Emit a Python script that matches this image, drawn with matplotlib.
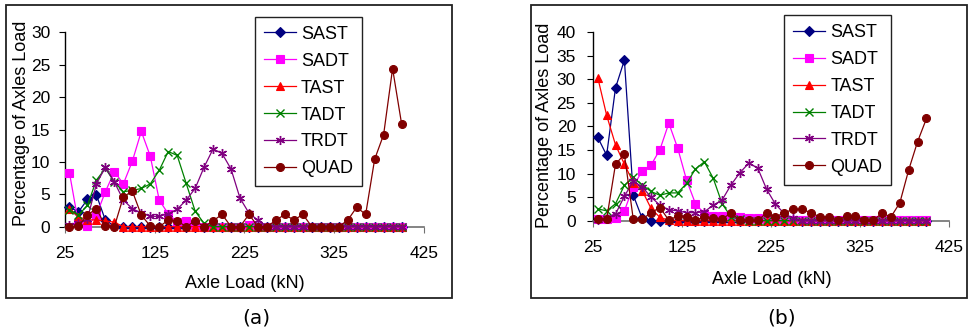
import matplotlib
matplotlib.use("Agg")
import matplotlib.pyplot as plt
from matplotlib.patches import Rectangle

plt.rcParams['font.family'] = ['Liberation Sans', 'DejaVu Sans']

# ---------------- data ----------------
axle_load = [30, 40, 50, 60, 70, 80, 90, 100, 110, 120, 130, 140, 150, 160, 170,
             180, 190, 200, 210, 220, 230, 240, 250, 260, 270, 280, 290, 300, 310,
             320, 330, 340, 350, 360, 370, 380, 390, 400]
series_names = ["SAST", "SADT", "TAST", "TADT", "TRDT", "QUAD"]

sast_a = [3.0, 2.3, 4.2, 4.9, 1.0, 0.1] + [0] * 32
sadt_a = [8.3, 0.5, 0.1, 1.8, 5.4, 8.5, 6.6, 10.1, 14.7, 10.9, 4.1, 2.0, 0.7, 0.9, 0.3,
          0, 0, 0, 0, 0, 0.3] + [0] * 17
tast_a = [2.8, 1.5, 1.1, 1.0, 0.9, 0.7] + [0] * 32
tadt_a = [2.6, 1.8, 3.3, 7.2, 9.0, 6.9, 5.4, 5.6, 5.9, 6.6, 8.7, 11.6, 11.0, 6.7, 2.4,
          0.5] + [0] * 22
trdt_a = [0.2, 0.5, 1.2, 6.6, 9.2, 6.9, 4.1, 2.8, 2.1, 1.6, 1.6, 2.0, 2.7, 4.1, 5.9,
          9.2, 12.0, 11.3, 8.9, 4.4, 2.1, 1.0] + [0] * 16
quad_a = [0, 0.1, 1.8, 2.8, 0.1, 0, 4.6, 5.5, 1.8, 0.1, 0, 1.0, 0.9, 0, 0.9, 0, 0.9,
          1.9, 0, 0, 1.9, 0, 0, 1.0, 1.9, 1.0, 1.9, 0, 0, 0, 0, 1.0, 3.0, 1.9, 10.4,
          14.2, 24.4, 15.9]

sast_b = [17.7, 13.9, 28.2, 34.1, 5.4, 0.5] + [0] * 32
sadt_b = [0.3, 0.3, 0.5, 2.1, 7.2, 10.6, 11.8, 15.1, 20.7, 15.4, 8.6, 3.6, 1.5, 1.1,
          0.9, 0.8, 0.8, 0.6, 0.5, 0.4, 0.3, 0.2, 0.2, 0.2, 0.2, 0.2, 0.2, 0.2, 0.2] + [0.1] * 9
tast_b = [30.4, 22.4, 16.1, 12.0, 8.1, 6.4, 2.6, 0.7, 0.1] + [0] * 29
tadt_b = [2.5, 2.1, 3.6, 7.5, 9.2, 7.6, 6.2, 5.4, 5.9, 5.9, 7.9, 11.0, 12.5, 9.0, 3.6,
          0.8, 0.3] + [0] * 21
trdt_b = [0.1, 0.6, 1.4, 5.2, 8.4, 7.2, 5.0, 3.3, 2.3, 2.1, 1.7, 1.7, 1.9, 3.3, 4.4,
          7.6, 10.2, 12.2, 11.2, 6.7, 3.5, 1.5, 0.5] + [0] * 15
quad_b = [0.3, 0.3, 12.0, 14.1, 0.3, 0.3, 1.7, 2.8, 0.1, 1.0, 0.8, 0.1, 0.8, 0.6, 0.4,
          1.6, 0.1, 0.1, 0.1, 1.6, 0.8, 1.7, 2.4, 2.4, 1.7, 0.8, 0.8, 0.1, 1.0, 1.0,
          0.1, 0.1, 1.6, 0.8, 3.8, 10.8, 16.8, 21.7]

x_ticks = [25, 125, 225, 325, 425]
y_ticks_a = [0, 5, 10, 15, 20, 25, 30]
y_ticks_b = [0, 5, 10, 15, 20, 25, 30, 35, 40]

# ---------------- styles ----------------
styles = {
    "SAST": dict(color="#000080", marker="D", ms=4.8),
    "SADT": dict(color="#FF00FF", marker="s", ms=5.2),
    "TAST": dict(color="#FF0000", marker="^", ms=6.0),
    "TADT": dict(color="#008000", marker="x", ms=5.5, mew=1.0),
    "TRDT": dict(color="#800080", marker=(6, 2, 0), ms=6.5, mew=1.0),
    "QUAD": dict(color="#800000", marker="o", ms=5.7),
}

W, H = 970, 333
fig = plt.figure(figsize=(W / 100, H / 100), dpi=100)


def fx(px):
    return px / W


def fy(py):
    return 1 - py / H


def make_panel(rect_px, axes_px, data, ylim, yticks, ylab_x, ylab_y, xlab_xy,
               leg_xy, tag_xy, tag, ytick_pad):
    # panel frame
    x0, y0, x1, y1 = rect_px
    fig.patches.append(Rectangle((fx(x0), fy(y1)), fx(x1 - x0), (y1 - y0) / H,
                                 transform=fig.transFigure, fill=False,
                                 edgecolor="#222222", linewidth=1.3))
    ax0, ay_top, ax1, ay_bot = axes_px
    ax = fig.add_axes([fx(ax0), fy(ay_bot), fx(ax1 - ax0), (ay_bot - ay_top) / H])
    for name, vals in zip(series_names, data):
        st = styles[name]
        ax.plot(axle_load, vals, color=st["color"], marker=st["marker"],
                ms=st["ms"], mew=st.get("mew", 0.8), lw=0.9, label=name,
                clip_on=False, zorder=3)
    ax.set_xlim(25, 425)
    ax.set_ylim(*ylim)
    ax.set_xticks(x_ticks)
    ax.set_yticks(yticks)
    for s in ("top", "right"):
        ax.spines[s].set_visible(False)
    ax.spines["left"].set_color("#000000")
    ax.spines["bottom"].set_color("#707070")
    ax.spines["left"].set_linewidth(1.0)
    ax.spines["bottom"].set_linewidth(1.2)
    ax.tick_params(axis="x", direction="out", length=4, width=0.8, color="#707070",
                   pad=10, labelsize=12.5)
    ax.tick_params(axis="y", direction="out", length=4, width=0.8, color="#000000",
                   pad=ytick_pad, labelsize=12.5)
    ax.patch.set_alpha(0)
    fig.text(fx(ylab_x), fy(ylab_y), "Percentage of Axles Load", rotation=90,
             ha="center", va="center", fontsize=13)
    fig.text(fx(xlab_xy[0]), fy(xlab_xy[1]), "Axle Load (kN)", ha="center",
             va="center", fontsize=13)
    fig.text(fx(tag_xy[0]), fy(tag_xy[1]), tag, ha="center", va="center",
             fontsize=14.5, family="DejaVu Sans")
    leg = ax.legend(loc="upper left", bbox_to_anchor=(fx(leg_xy[0]), fy(leg_xy[1])),
                    bbox_transform=fig.transFigure, borderaxespad=0, fontsize=13,
                    numpoints=1, handlelength=1.75, handletextpad=0.3,
                    labelspacing=0.55, borderpad=0.5, fancybox=False,
                    framealpha=1, edgecolor="#222222")
    leg.get_frame().set_linewidth(1.0)
    return ax


make_panel((5.7, 5, 451.7, 298.3), (65, 32.3, 424, 226.7),
           [sast_a, sadt_a, tast_a, tadt_a, trdt_a, quad_a], (0, 30), y_ticks_a,
           21.7, 123.5, (245, 283.3), (255, 16.7), (256, 318), "(a)", 6.5)
make_panel((530.7, 5, 967.5, 298.3), (593.3, 32.3, 948.7, 220.7),
           [sast_b, sadt_b, tast_b, tadt_b, trdt_b, quad_b], (0, 40), y_ticks_b,
           545, 125, (771.7, 279.3), (784.3, 15), (781.7, 318.3), "(b)", 8.5)

fig.savefig("out.png", dpi=100)
